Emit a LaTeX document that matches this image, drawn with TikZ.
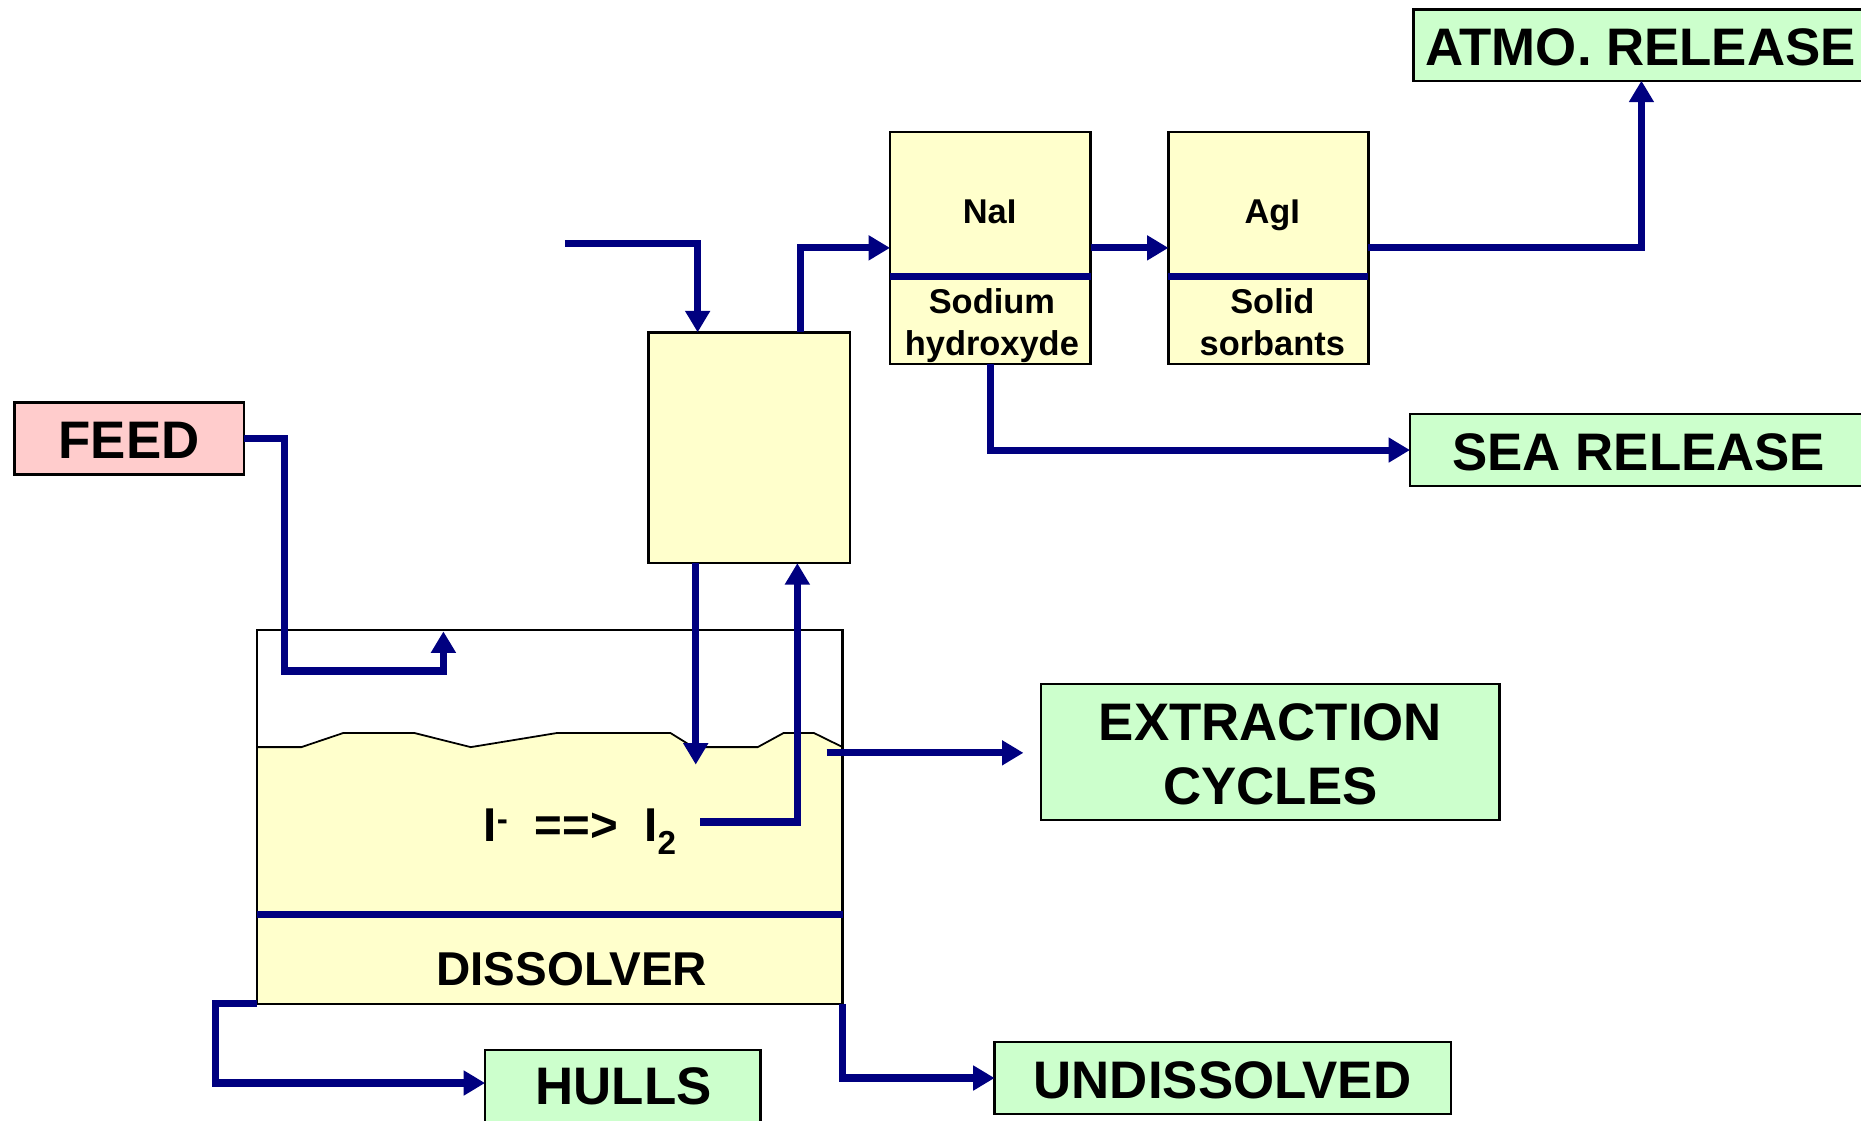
\documentclass[tikz,border=0pt]{standalone}
\usepackage{fontspec}
\setmainfont{Liberation Sans}
\usetikzlibrary{arrows.meta,calc}
\definecolor{flowblue}{RGB}{0,0,128}
\definecolor{tankyellow}{RGB}{255,255,204}
\definecolor{outgreen}{RGB}{204,255,204}
\definecolor{feedpink}{RGB}{255,204,204}
\newcommand{\lblbig}{\bfseries\fontsize{44.5}{53}\selectfont}
\newcommand{\lblmid}{\bfseries\fontsize{40}{48}\selectfont}
\newcommand{\lblsmall}{\bfseries\fontsize{29}{35}\selectfont}
\begin{document}
\begin{tikzpicture}[x=1pt,y=-1pt,
  boxnode/.style={draw=black,line width=2pt,inner sep=0pt,outer sep=0pt},
  flow/.style={draw=flowblue,line width=6pt,line join=miter,-{Triangle[width=20pt,length=18pt]}},
  divider/.style={draw=flowblue,line width=5.5pt},
  lbl/.style={inner sep=0pt,outer sep=0pt,anchor=base}]
\useasboundingbox (0,0) rectangle (1568,944);
\clip (0,0) rectangle (1568,944);
\fill[white] (0,0) rectangle (1568,944);

% liquid in the dissolver
\fill[tankyellow] (216.7,629.5) -- (253.9,629.5) -- (289.2,617.6) -- (349.2,617.6) -- (396.6,629.5) -- (469.2,617.6) -- (564.9,617.6) -- (584,629.5) -- (638.4,629.5) -- (660.2,617.6) -- (685.8,617.6) -- (710,629.5) -- (710,845.8) -- (216.7,845.8) -- cycle;
\draw[line width=1.5pt] (216.7,629.5) -- (253.9,629.5) -- (289.2,617.6) -- (349.2,617.6) -- (396.6,629.5) -- (469.2,617.6) -- (564.9,617.6) -- (584,629.5) -- (638.4,629.5) -- (660.2,617.6) -- (685.8,617.6) -- (710,629.5);

% boxes
\node[boxnode, minimum width=493.3pt, minimum height=314.8pt] (dissolver) at (463.35,688.4) {};
\node[boxnode, fill=feedpink, minimum width=193.4pt, minimum height=60.5pt] (feed) at (108.8,369.45) {};
\node[boxnode, fill=tankyellow, minimum width=169.5pt, minimum height=194.5pt] (scrub) at (631.25,377.25) {};
\node[boxnode, fill=tankyellow, minimum width=168.9pt, minimum height=195.7pt] (nai) at (834.35,208.85) {};
\node[boxnode, fill=tankyellow, minimum width=168.5pt, minimum height=195.7pt] (agi) at (1068.75,208.85) {};
\node[boxnode, fill=outgreen, minimum width=384pt, minimum height=60pt] (atmo) at (1383,38) {};
\node[boxnode, fill=outgreen, minimum width=387pt, minimum height=60.7pt] (sea) at (1381.5,379.2) {};
\node[boxnode, fill=outgreen, minimum width=386pt, minimum height=114.5pt] (extr) at (1070.3,633.8) {};
\node[boxnode, fill=outgreen, minimum width=232.1pt, minimum height=62.3pt] (hulls) at (524.75,915.85) {};
\node[boxnode, fill=outgreen, minimum width=384.6pt, minimum height=60.6pt] (undis) at (1030.3,908.3) {};

% dividers
\draw[divider] ($(dissolver.north west)+(0,239.5)$) -- ($(dissolver.north east)+(0,239.5)$);
\draw[divider] ($(nai.north west)+(0,122)$) -- ($(nai.north east)+(0,122)$);
\draw[divider] ($(agi.north west)+(0,122)$) -- ($(agi.north east)+(0,122)$);

% free ends
\coordinate (feedin) at (373.6,532);
\coordinate (gasin) at (476,205.4);
\coordinate (drop) at (586.2,644.2);
\coordinate (iodout) at (590,692.6);
\coordinate (extout) at (696.5,634.3);
\coordinate (hullbend) at (181.9,912.5);

% connectors
\draw[flow] (feed.east) -| (239.9,565.4) -| (feedin);
\draw[flow] (gasin) -| ([xshift=41.3pt]scrub.north west);
\draw[flow] ([xshift=128.2pt]scrub.north west) |- (nai.west);
\draw[flow] (nai.east) -- (agi.west);
\draw[flow] (agi.east) -| (atmo.south);
\draw[flow] (nai.south) |- (sea.west);
\draw[flow] ([xshift=39.7pt]scrub.south west) -- (drop);
\draw[flow] (iodout) -| ([xshift=125.3pt]scrub.south west);
\draw[flow] (extout) -- ([xshift=-15pt]extr.west |- extout);
\draw[flow] (dissolver.south west) -| (hullbend) -- (hullbend -| hulls.west);
\draw[flow] (dissolver.south east) |- (undis.west);

% labels
\node[lbl, font=\lblbig] (tfeed) at (108.8,386) {FEED};
\node[lbl, font=\lblmid] (tdis) at (481.7,830) {DISSOLVER};
\node[lbl, font=\lblmid, anchor=base west] (treact) at (407.5,709) {I\textsuperscript{-}\ \ ==>\ \ I\textsubscript{2}};
\node[lbl, font=\lblbig] (textr1) at (1070.4,624.3) {EXTRACTION};
\node[lbl, font=\lblbig] (textr2) at (1070.4,678.2) {CYCLES};
\node[lbl, font=\lblbig] (thulls) at (525.5,931) {HULLS};
\node[lbl, font=\lblbig] (tundis) at (1030,925.5) {UNDISSOLVED};
\node[lbl, font=\lblbig] (tsea) at (1380.8,396.6) {SEA RELEASE};
\node[lbl, font=\lblbig] (tatmo) at (1382.3,55) {ATMO. RELEASE};
\node[lbl, font=\lblsmall] (tnai) at (833.8,188.7) {NaI};
\node[lbl, font=\lblsmall] (tsod) at (835.7,264) {Sodium};
\node[lbl, font=\lblsmall] (thyd) at (835.7,299.7) {hydroxyde};
\node[lbl, font=\lblsmall] (tagi) at (1072,188.7) {AgI};
\node[lbl, font=\lblsmall] (tsol) at (1072,264) {Solid};
\node[lbl, font=\lblsmall] (tsorb) at (1072,299.7) {sorbants};
\end{tikzpicture}
\end{document}
